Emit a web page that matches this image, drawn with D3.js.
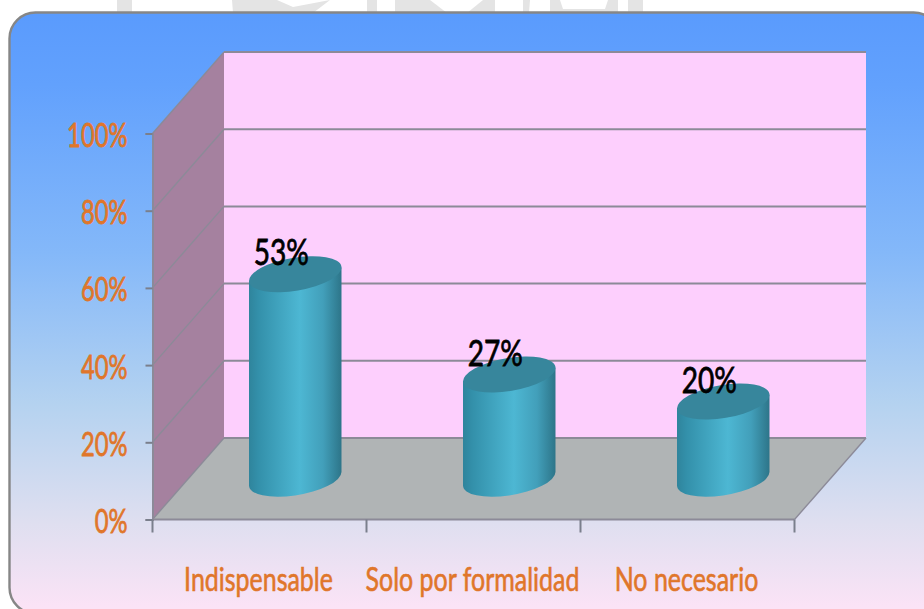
<!DOCTYPE html>
<html>
<head>
<meta charset="utf-8">
<script src="https://cdn.jsdelivr.net/npm/d3@7/dist/d3.min.js"></script>
<style>
  html, body { margin: 0; padding: 0; background: #fff; }
  svg { display: block; }
  text { font-family: Lato, "Open Sans", sans-serif; }
</style>
</head>
<body>
<svg id="chart" width="924" height="609"></svg>
<script>
// Survey shares shown as 3D cylinders
const categories = ["Indispensable", "Solo por formalidad", "No necesario"];
const shares = [53, 27, 20];
const valueTicks = [0, 20, 40, 60, 80, 100];

const svg = d3.select("#chart");
const defs = svg.append("defs");

// Front plane of the plot box, and the offset to its back wall
const frontLeft = 152.5, frontRight = 794.5, floorY = 519.5, topY = 133.5;
const depthX = 71.5, depthY = -81.5;

const x = d3.scaleBand().domain(categories).range([frontLeft, frontRight]);
const y = d3.scaleLinear().domain([0, 100]).range([floorY, topY]);

const gridColor = "#8c8a98";
const orange = "#e0762a";

function linearGradient(id, x2, y2, stops) {
  const g = defs.append("linearGradient").attr("id", id)
    .attr("x1", 0).attr("y1", 0).attr("x2", x2).attr("y2", y2);
  stops.forEach(([o, c]) => g.append("stop").attr("offset", o).attr("stop-color", c));
}
linearGradient("panelFill", 0, 1, [
  [0, "#5a9bfd"], [0.12, "#62a1fd"], [0.4, "#84b8f9"], [0.65, "#b4d2f0"], [0.85, "#dfdff0"], [0.99, "#fbe3f6"]
]);
linearGradient("cylinderFill", 1, 0, [
  [0, "#2f849c"], [0.1, "#3390aa"], [0.55, "#4db7d3"], [0.8, "#429fba"], [1, "#2d7589"]
]);

// Faint letterhead shapes showing above the panel
const letterhead = [
  [[117, 0], [132, 0], [132, 13], [117, 13]],
  [[232, 0], [277, 0], [293, 7], [330, 0], [313, 13], [233, 13]],
  [[367, 0], [377, 0], [377, 13], [367, 13]],
  [[395, 0], [430, 0], [447, 13], [395, 13]],
  [[467, 13], [483, 0], [495, 0], [495, 13]],
  [[523, 0], [530, 0], [529, 13], [523, 13]],
  [[550, 0], [560, 0], [563, 9], [605, 9], [608, 0], [618, 0], [618, 13], [550, 13]],
  [[628, 0], [643, 0], [643, 13], [628, 13]]
];
svg.append("g").selectAll("polygon").data(letterhead).join("polygon")
  .attr("points", d => d.map(p => p.join(",")).join(" "))
  .attr("fill", "#e4e4e4");

// Rounded panel behind the chart
svg.append("rect")
  .attr("x", 9.5).attr("y", 12.5).attr("width", 930).attr("height", 601).attr("rx", 26)
  .attr("fill", "url(#panelFill)").attr("stroke", "#868686").attr("stroke-width", 2.4);

// Box walls
const backLeft = frontLeft + depthX, backRight = frontRight + depthX;
const pts = a => a.map(p => p.join(",")).join(" ");

svg.append("polygon")
  .attr("points", pts([[backLeft, y(100) + depthY], [backRight, y(100) + depthY], [backRight, y(0) + depthY], [backLeft, y(0) + depthY]]))
  .attr("fill", "#fdcffd");
svg.append("polygon")
  .attr("points", pts([[frontLeft, y(0)], [backLeft, y(0) + depthY], [backLeft, y(100) + depthY], [frontLeft, y(100)]]))
  .attr("fill", "#a5819f");
svg.append("polygon")
  .attr("points", pts([[frontLeft, y(0)], [backLeft, y(0) + depthY], [backRight, y(0) + depthY], [frontRight, y(0)]]))
  .attr("fill", "#b0b4b5");

// Gridlines along the back wall and the side wall
const grid = svg.append("g").attr("stroke", gridColor).attr("fill", "none");
grid.selectAll("line.back").data(valueTicks).join("line").attr("class", "back")
  .attr("x1", backLeft).attr("x2", backRight)
  .attr("y1", d => y(d) + depthY).attr("y2", d => y(d) + depthY)
  .attr("stroke-width", 2);
grid.selectAll("line.side").data(valueTicks).join("line").attr("class", "side")
  .attr("x1", frontLeft).attr("x2", backLeft)
  .attr("y1", d => y(d)).attr("y2", d => y(d) + depthY)
  .attr("stroke-width", 1.4);
grid.append("line").attr("x1", frontRight).attr("x2", backRight)
  .attr("y1", y(0)).attr("y2", y(0) + depthY).attr("stroke-width", 1.4);

// Value axis
const yAxis = svg.append("g").attr("transform", `translate(${frontLeft},0)`)
  .call(d3.axisLeft(y).tickValues(valueTicks).tickSize(7).tickFormat(d => d + "%"));
yAxis.select(".domain").attr("stroke", gridColor).attr("stroke-width", 2);
yAxis.selectAll(".tick line").attr("stroke", "#7a7f8c").attr("stroke-width", 2);
yAxis.selectAll(".tick text")
  .attr("x", 0).attr("y", 0).attr("dy", null)
  .attr("transform", "translate(-25,13) scale(0.72,1)")
  .attr("fill", orange).attr("stroke", orange).attr("stroke-width", 0.8)
  .attr("font-size", 33).attr("text-anchor", "end");

// Category axis
const xAxis = svg.append("g").attr("transform", `translate(0,${floorY})`);
xAxis.append("line").attr("x1", frontLeft).attr("x2", frontRight)
  .attr("stroke", gridColor).attr("stroke-width", 2);
const boundaries = [...categories.map(c => x(c)), frontRight];
xAxis.selectAll("line.tick").data(boundaries).join("line").attr("class", "tick")
  .attr("x1", d => d).attr("x2", d => d).attr("y1", 0).attr("y2", 13)
  .attr("stroke", "#7a7f8c").attr("stroke-width", 2);
xAxis.selectAll("text").data(categories).join("text")
  .attr("transform", d => `translate(${x(d) + x.bandwidth() / 2 - 1},71) scale(0.78,1)`)
  .attr("text-anchor", "middle").attr("fill", orange).attr("stroke", orange).attr("stroke-width", 0.6)
  .attr("font-size", 32)
  .text(d => d);

// Cylinders: each stands halfway into the box depth, its ends are tilted ellipses
const tilt = -9.5, rx = 46.8, ry = 16.5;
const rad = tilt * Math.PI / 180;
const halfW = Math.sqrt(rx * rx * Math.cos(rad) ** 2 + ry * ry * Math.sin(rad) ** 2);
const tangentDy = (rx * rx - ry * ry) * Math.sin(rad) * Math.cos(rad) / halfW;

const bars = svg.append("g").selectAll("g")
  .data(categories.map((c, i) => ({ c, v: shares[i] })))
  .join("g")
  .attr("transform", d => `translate(${x(d.c) + x.bandwidth() / 2 + depthX / 2},${depthY / 2})`);

bars.append("path")
  .attr("fill", "url(#cylinderFill)")
  .attr("d", d => {
    const t = y(d.v), b = y(0);
    return `M${-halfW},${t - tangentDy} L${-halfW},${b - tangentDy} ` +
      `A${rx},${ry} ${tilt} 0 0 ${halfW},${b + tangentDy} L${halfW},${t + tangentDy} Z`;
  });
bars.append("ellipse")
  .attr("rx", rx).attr("ry", ry).attr("fill", "#37869c")
  .attr("transform", d => `translate(0,${y(d.v)}) rotate(${tilt})`);

// Percentage labels
bars.append("text")
  .attr("transform", d => `translate(-14,${y(d.v) - 9}) scale(0.76,1)`)
  .attr("text-anchor", "middle").attr("font-size", 37).attr("fill", "#000")
  .attr("stroke", "#000").attr("stroke-width", 0.8)
  .text(d => d.v + "%");
</script>
</body>
</html>
